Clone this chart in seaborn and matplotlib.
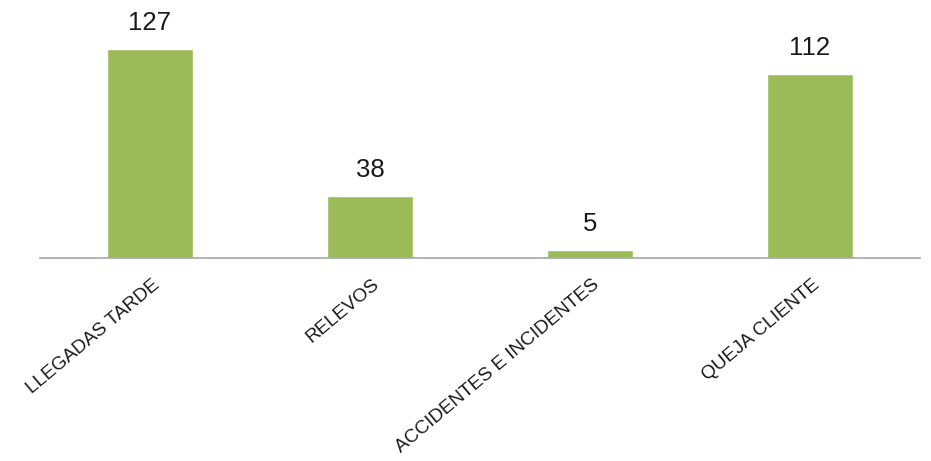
import matplotlib
matplotlib.use("Agg")
import matplotlib.pyplot as plt
import matplotlib.transforms as mtransforms
import seaborn as sns
import pandas as pd

categories = ["LLEGADAS TARDE", "RELEVOS", "ACCIDENTES E INCIDENTES", "QUEJA CLIENTE"]
values = [127, 38, 5, 112]

df = pd.DataFrame({"cat": categories, "val": values})

sns.set_theme(style="white")
plt.rcParams["font.family"] = ["Liberation Sans", "DejaVu Sans"]

fig = plt.figure(figsize=(9.31, 4.61), dpi=100)
ax = fig.add_axes([40 / 931, 1 - 258 / 461, 880 / 931, 258 / 461])

sns.barplot(data=df, x="cat", y="val", color="#9BBB59", width=0.39,
            saturation=1, ax=ax)
ax.set_xlim(-0.5, 3.5)
ax.set_ylim(0, 157)

for p, v in zip(ax.patches, values):
    ax.annotate(str(v), (p.get_x() + p.get_width() / 2, p.get_height()),
                xytext=(0, 13.7), textcoords="offset points",
                ha="center", va="baseline", fontsize=18.5, color="#1a1a1a")

for s in ["top", "left", "right"]:
    ax.spines[s].set_visible(False)
ax.spines["bottom"].set_color("#A6A6A6")
ax.spines["bottom"].set_linewidth(1.2)
ax.set_yticks([])
ax.set_xlabel("")
ax.set_ylabel("")
ax.tick_params(axis="x", length=0, pad=0)
offset = mtransforms.ScaledTranslation(2 / 100, -18 / 100, fig.dpi_scale_trans)
for lab in ax.get_xticklabels():
    lab.set_rotation(40)
    lab.set_ha("right")
    lab.set_va("top")
    lab.set_rotation_mode("anchor")
    lab.set_fontsize(13.7)
    lab.set_color("#1a1a1a")
    lab.set_transform(lab.get_transform() + offset)

fig.savefig("out.png", dpi=100)
